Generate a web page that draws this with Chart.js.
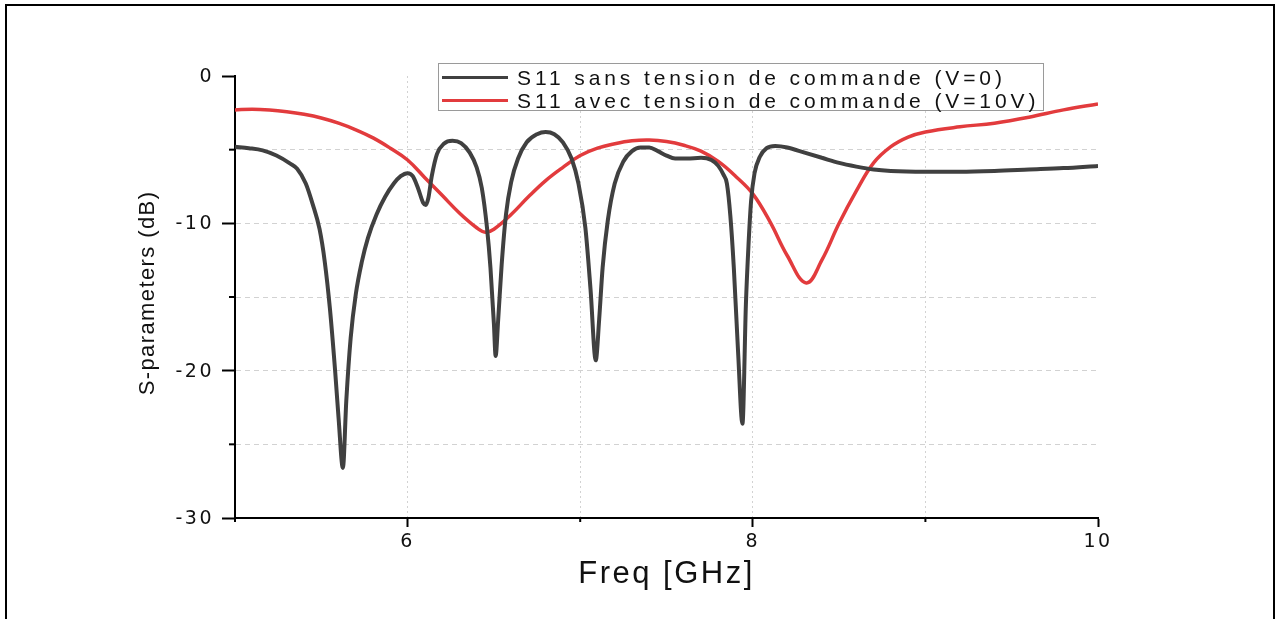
<!DOCTYPE html>
<html>
<head>
<meta charset="utf-8">
<script src="https://cdn.jsdelivr.net/npm/chart.js@4"></script>
<style>
    html, body { margin: 0; padding: 0; background: #fff; }
    #wrap { position: relative; width: 1279px; height: 619px; overflow: hidden; }
    #frame { position: absolute; left: 5px; top: 4px; width: 1266px; height: 700px; border: 2px solid #000; pointer-events: none; }
    #chart { position: absolute; left: 0; top: 0; }
    #legend {
        position: absolute; left: 438px; top: 63px; width: 604px; height: 46px;
        border: 1px solid #9a9a9a; background: #fff;
        font: 21px "Liberation Sans", Arial, sans-serif; letter-spacing: 3.9px; color: #111;
    }
    #legend .row { position: absolute; left: 0; height: 23px; display: flex; align-items: center; white-space: nowrap; }
    #legend .swatch { width: 66px; height: 3px; margin-left: 3px; margin-right: 9px; }
</style>
</head>
<body>
<div id="wrap">
    <canvas id="chart" width="1279" height="619"></canvas>
    <div id="legend"></div>
    <div id="frame"></div>
</div>
<script>
// S11 without control voltage (V=0)
const freqV0 = [
    5.00, 5.08, 5.16, 5.24, 5.32, 5.36, 5.41, 5.45, 5.49, 5.52, 5.55, 5.58, 5.60, 5.625, 5.645, 5.67, 5.70, 5.735,
    5.77, 5.82, 5.87, 5.92, 5.96, 6.00, 6.03, 6.06, 6.09, 6.105, 6.12, 6.14, 6.17, 6.21, 6.26, 6.31, 6.36, 6.40,
    6.43, 6.46, 6.48, 6.50, 6.51, 6.525, 6.545, 6.57, 6.60, 6.64, 6.69, 6.75, 6.80, 6.85, 6.90, 6.95, 6.99,
    7.03, 7.06, 7.09, 7.11, 7.13, 7.16, 7.20, 7.25, 7.30, 7.35, 7.40, 7.45, 7.50, 7.55, 7.62, 7.70, 7.76, 7.80,
    7.83, 7.85, 7.87, 7.89, 7.915, 7.94, 7.96, 7.975, 7.99, 8.01, 8.04, 8.08, 8.13, 8.20, 8.30, 8.40, 8.50,
    8.60, 8.70, 8.80, 9.00, 9.20, 9.40, 9.60, 9.80, 10.00
];
const s11V0 = [
    -4.8, -4.9, -5.05, -5.4, -5.95, -6.3, -7.3, -8.7, -10.4, -12.6, -15.8, -20.0, -23.2, -26.6, -22.0, -17.8, -14.8, -12.6,
    -11.0, -9.4, -8.2, -7.3, -6.8, -6.6, -6.8, -7.6, -8.6, -8.75, -8.3, -6.8, -5.3, -4.6, -4.4, -4.55, -5.2, -6.2,
    -7.6, -10.3, -13.0, -16.8, -19.0, -16.5, -12.8, -9.4, -7.2, -5.6, -4.5, -3.95, -3.8, -3.95, -4.5, -5.6, -7.3,
    -10.3, -14.5, -19.3, -16.5, -13.0, -9.8, -7.3, -5.8, -5.1, -4.85, -4.85, -5.1, -5.4, -5.6, -5.6, -5.55, -5.7, -6.1,
    -6.7, -7.3, -9.5, -13.0, -18.8, -23.6, -15.5, -11.5, -8.5, -6.6, -5.5, -4.9, -4.75, -4.85, -5.2, -5.55, -5.9,
    -6.15, -6.35, -6.45, -6.5, -6.5, -6.45, -6.35, -6.25, -6.1
];

// S11 with control voltage (V=10V)
const freqV10 = [
    5.00, 5.10, 5.20, 5.30, 5.40, 5.50, 5.60, 5.70, 5.80, 5.90, 6.00, 6.10, 6.20, 6.30, 6.40, 6.45, 6.50, 6.60,
    6.70, 6.80, 6.90, 7.00, 7.10, 7.20, 7.30, 7.40, 7.50, 7.60, 7.70, 7.80, 7.90, 8.00, 8.10, 8.20, 8.31,
    8.40, 8.50, 8.60, 8.70, 8.80, 8.90, 9.00, 9.20, 9.40, 9.60, 9.80, 10.00
];
const s11V10 = [
    -2.3, -2.25, -2.3, -2.42, -2.6, -2.85, -3.2, -3.65, -4.2, -4.9, -5.7, -6.9, -8.1, -9.3, -10.3, -10.6, -10.4, -9.4,
    -8.2, -7.1, -6.2, -5.4, -4.9, -4.6, -4.4, -4.35, -4.45, -4.7, -5.1, -5.8, -6.8, -8.0, -9.9, -12.2, -14.05,
    -12.5, -10.0, -7.8, -5.9, -4.8, -4.15, -3.8, -3.45, -3.2, -2.8, -2.3, -1.9
];

const seriesLabels = [
    "S11 sans tension de commande (V=0)",
    "S11 avec tension de commande (V=10V)"
];
const seriesColors = ["#404040", "#e23b3d"];
const xTitle = "Freq [GHz]";
const yTitle = "S-parameters (dB)";

function toPoints(xs, ys) {
    return xs.map((x, i) => ({ x: x, y: ys[i] }));
}

const tickFont = { family: "'DejaVu Sans', sans-serif", size: 19 };

// minor ticks and the rotated y title
const axisExtras = {
    id: "axisExtras",
    beforeUpdate(chart) {
        chart.ctx.letterSpacing = "2.5px";
    },
    afterDraw(chart) {
        const { ctx, chartArea, scales } = chart;
        ctx.save();
        ctx.strokeStyle = "#000";
        ctx.lineWidth = 2;
        scales.y.ticks.forEach(t => {
            if (t.value % 10 === 0) return;
            const y = scales.y.getPixelForValue(t.value);
            ctx.beginPath();
            ctx.moveTo(chartArea.left - 6, y);
            ctx.lineTo(chartArea.left, y);
            ctx.stroke();
        });
        scales.x.ticks.forEach(t => {
            if (t.value % 2 === 0) return;
            const x = scales.x.getPixelForValue(t.value);
            ctx.beginPath();
            ctx.moveTo(x, chartArea.bottom);
            ctx.lineTo(x, chartArea.bottom + 4);
            ctx.stroke();
        });

        ctx.letterSpacing = "1.4px";
        ctx.font = "22px 'Liberation Sans', Arial, sans-serif";
        ctx.fillStyle = "#111";
        ctx.translate(148, (chartArea.top + chartArea.bottom) / 2 - 4);
        ctx.rotate(-Math.PI / 2);
        ctx.textAlign = "center";
        ctx.textBaseline = "middle";
        ctx.fillText(yTitle, 0, 0);
        ctx.restore();
    }
};

const chart = new Chart(document.getElementById("chart"), {
    type: "line",
    data: {
        datasets: [
            {
                label: seriesLabels[0],
                data: toPoints(freqV0, s11V0),
                borderColor: seriesColors[0],
                borderWidth: 4,
                cubicInterpolationMode: "monotone"
            },
            {
                label: seriesLabels[1],
                data: toPoints(freqV10, s11V10),
                borderColor: seriesColors[1],
                borderWidth: 3.5,
                tension: 0.4
            }
        ]
    },
    options: {
        responsive: false,
        animation: false,
        devicePixelRatio: 1,
        layout: { padding: { left: 0, top: 76, right: 181, bottom: 0 } },
        elements: {
            point: { radius: 0 }
        },
        plugins: {
            legend: { display: false },
            tooltip: { enabled: false }
        },
        scales: {
            y: {
                type: "linear",
                min: -30,
                max: 0,
                afterFit(scale) { scale.width = 235; },
                ticks: {
                    stepSize: 5,
                    padding: 8,
                    labelOffset: 1,
                    color: "#111",
                    font: tickFont,
                    callback: v => (v % 10 === 0 ? String(v) : "")
                },
                grid: {
                    tickLength: 13,
                    tickWidth: 2,
                    lineWidth: 1,
                    color: ctx => (ctx.tick && ctx.tick.value < 0 && ctx.tick.value > -30 ? "#d2d2d2" : "rgba(0,0,0,0)"),
                    tickColor: ctx => (ctx.tick && ctx.tick.value % 10 === 0 ? "#000" : "rgba(0,0,0,0)")
                },
                border: { color: "#000", width: 2, dash: [5, 4] }
            },
            x: {
                type: "linear",
                min: 5,
                max: 10,
                afterFit(scale) { scale.height = 101; },
                ticks: {
                    stepSize: 1,
                    padding: 4,
                    autoSkip: false,
                    maxRotation: 0,
                    color: "#111",
                    font: tickFont,
                    callback: v => (v % 2 === 0 ? String(v) : "")
                },
                grid: {
                    tickLength: 9,
                    tickWidth: 2,
                    lineWidth: 1,
                    color: ctx => (ctx.tick && ctx.tick.value > 5 && ctx.tick.value < 10 ? "#d2d2d2" : "rgba(0,0,0,0)"),
                    tickColor: ctx => (ctx.tick && ctx.tick.value % 2 === 0 ? "#000" : "rgba(0,0,0,0)")
                },
                border: { color: "#000", width: 2, dash: [2, 3] },
                title: {
                    display: true,
                    text: xTitle,
                    color: "#111",
                    font: { family: "'Liberation Sans', Arial, sans-serif", size: 31 },
                    padding: { top: 0, bottom: 26 }
                }
            }
        }
    },
    plugins: [axisExtras]
});

// legend built from the chart's own datasets
const legendEl = document.getElementById("legend");
chart.data.datasets.forEach((ds, i) => {
    const row = document.createElement("div");
    row.className = "row";
    row.style.top = (2 + i * 23) + "px";
    const sw = document.createElement("span");
    sw.className = "swatch";
    sw.style.background = ds.borderColor;
    const txt = document.createElement("span");
    txt.textContent = ds.label;
    row.appendChild(sw);
    row.appendChild(txt);
    legendEl.appendChild(row);
});
</script>
</body>
</html>
